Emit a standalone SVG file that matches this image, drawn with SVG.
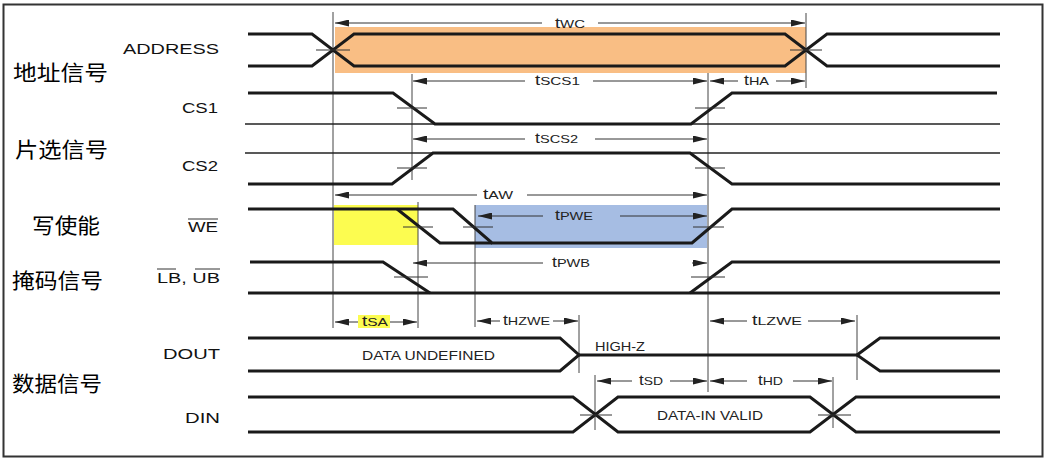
<svg xmlns="http://www.w3.org/2000/svg" width="1048" height="461" viewBox="0 0 1048 461">
<defs>
<marker id="ah" markerUnits="userSpaceOnUse" markerWidth="14" markerHeight="7" refX="14" refY="3.5" orient="auto-start-reverse" viewBox="0 0 14 7">
<path d="M0,0 L14,3.5 L0,7 z" fill="#222"/>
</marker>
</defs>
<style>
.sig{fill:none;stroke:#1a1a1a;stroke-width:3;stroke-linejoin:miter}
.ref{fill:none;stroke:#222;stroke-width:1.6}
.guide{fill:none;stroke:#444;stroke-width:1}
.tick{fill:none;stroke:#333;stroke-width:1}
.dim{fill:none;stroke:#333;stroke-width:1}
.ar{marker-end:url(#ah)}
.al{marker-start:url(#ah)}
.lbl{font-family:"Liberation Sans",Arial,sans-serif;font-size:15px;fill:#111}
.cn{font-family:"Noto Sans CJK SC","Noto Sans",sans-serif;font-size:21px;fill:#000}
.tm{font-family:"Liberation Sans",Arial,sans-serif;font-size:14px;fill:#222}
.sub{font-size:11.5px}
.dat{font-family:"Liberation Sans",Arial,sans-serif;font-size:12.5px;fill:#222}
</style>
<rect x="0" y="0" width="1048" height="461" fill="#fff"/>
<rect x="3.5" y="4.5" width="1039" height="452" fill="none" stroke="#333" stroke-width="2"/>

<g id="highlights">
<rect x="335" y="27" width="471" height="46" fill="#F9BE84"/>
<rect x="334" y="205" width="84" height="40" fill="#FCFC50"/>
<rect x="475" y="205" width="232" height="43" fill="#A6BDE3"/>
<rect x="358" y="315" width="32" height="13" fill="#FCFC50"/>
</g>

<g id="labels">
<text class="cn" x="13" y="80" textLength="95" lengthAdjust="spacingAndGlyphs">地址信号</text>
<text class="cn" x="15" y="157" textLength="93" lengthAdjust="spacingAndGlyphs">片选信号</text>
<text class="cn" x="32" y="233" textLength="68" lengthAdjust="spacingAndGlyphs">写使能</text>
<text class="cn" x="12" y="288" textLength="91" lengthAdjust="spacingAndGlyphs">掩码信号</text>
<text class="cn" x="12" y="391" textLength="90" lengthAdjust="spacingAndGlyphs">数据信号</text>
<text class="lbl" x="123" y="54" textLength="96" lengthAdjust="spacingAndGlyphs">ADDRESS</text>
<text class="lbl" x="182" y="113" textLength="36" lengthAdjust="spacingAndGlyphs">CS1</text>
<text class="lbl" x="182" y="171" textLength="36" lengthAdjust="spacingAndGlyphs">CS2</text>
<text class="lbl" x="188" y="232" textLength="30" lengthAdjust="spacingAndGlyphs">WE</text>
<line class="tick" x1="188" y1="219" x2="218" y2="219"/>
<text class="lbl" x="157" y="283" textLength="63" lengthAdjust="spacingAndGlyphs">LB, UB</text>
<line class="tick" x1="157" y1="269" x2="176" y2="269"/>
<line class="tick" x1="195" y1="269" x2="220" y2="269"/>
<text class="lbl" x="163" y="359" textLength="57" lengthAdjust="spacingAndGlyphs">DOUT</text>
<text class="lbl" x="185" y="423" textLength="35" lengthAdjust="spacingAndGlyphs">DIN</text>
</g>

<g id="guides">
<line class="guide" x1="333" y1="12" x2="333" y2="328"/>
<line class="guide" x1="806" y1="13" x2="806" y2="88"/>
<line class="guide" x1="412" y1="74" x2="412" y2="180"/>
<line class="guide" x1="708" y1="73" x2="708" y2="392"/>
<line class="guide" x1="418" y1="202" x2="418" y2="328"/>
<line class="guide" x1="475" y1="205" x2="475" y2="327"/>
<line class="guide" x1="579" y1="315" x2="579" y2="373"/>
<line class="guide" x1="857" y1="315" x2="857" y2="380"/>
<line class="guide" x1="595" y1="375" x2="595" y2="430"/>
<line class="guide" x1="833" y1="377" x2="833" y2="428"/>
</g>

<g id="address">
<path class="sig" d="M248,34 H312 L354,66 H785 L827,34 H1000"/>
<path class="sig" d="M248,66 H312 L354,34 H785 L827,66 H1000"/>
<line class="tick" x1="316" y1="50" x2="350" y2="50"/>
<line class="tick" x1="790" y1="50" x2="822" y2="50"/>
</g>

<g id="cs1">
<path class="ref" d="M245,124 H1000"/>
<path class="sig" d="M248,93 H393 L435,124 H691 L732,93 H997"/>
<line class="tick" x1="397" y1="108" x2="427" y2="108"/>
<line class="tick" x1="695" y1="108" x2="725" y2="108"/>
</g>

<g id="cs2">
<path class="ref" d="M245,153 H1000"/>
<path class="sig" d="M248,184 H392 L433,153 H690 L732,184 H1000"/>
<line class="tick" x1="397" y1="168" x2="427" y2="168"/>
<line class="tick" x1="695" y1="168" x2="725" y2="168"/>
</g>

<g id="we">
<path class="sig" d="M248,209 H453 L492,243 H692 L732,209 H1000"/>
<path class="sig" d="M397,209 L440,243 H492"/>
<line class="tick" x1="403" y1="227" x2="433" y2="227"/>
<line class="tick" x1="463" y1="227" x2="493" y2="227"/>
<line class="tick" x1="693" y1="227" x2="724" y2="227"/>
</g>

<g id="lbub">
<path class="sig" d="M248,293 H1000"/>
<path class="sig" d="M250,262 H383 L430,293 M690,293 L732,262 H1000"/>
<line class="tick" x1="394" y1="277" x2="428" y2="277" stroke="#888"/>
<line class="tick" x1="691" y1="277" x2="725" y2="277"/>
</g>

<g id="dout">
<path class="sig" d="M248,338 H560 L579,355 L560,371 H248"/>
<path class="sig" d="M579,355 H857"/>
<path class="sig" d="M1000,338 H880 L857,355 L880,371 H1000"/>
<text class="dat" x="362" y="359.5" textLength="133" lengthAdjust="spacingAndGlyphs">DATA UNDEFINED</text>
<text class="dat" x="595" y="351" textLength="50" lengthAdjust="spacingAndGlyphs">HIGH-Z</text>
</g>

<g id="din">
<path class="sig" d="M248,397 H573 L618,432 H810 L856,397 H1000"/>
<path class="sig" d="M248,432 H573 L618,397 H810 L856,432 H1000"/>
<line class="tick" x1="580" y1="415" x2="612" y2="415"/>
<line class="tick" x1="818" y1="415" x2="851" y2="415"/>
<text class="dat" x="657" y="420" textLength="106" lengthAdjust="spacingAndGlyphs">DATA-IN VALID</text>
</g>

<g id="connectors">
<line class="dim al" x1="335" y1="23" x2="542" y2="23"/>
<line class="dim ar" x1="598" y1="23" x2="805" y2="23"/>
<line class="dim al" x1="413" y1="81" x2="525" y2="81"/>
<line class="dim ar" x1="593" y1="81" x2="707" y2="81"/>
<line class="dim al" x1="710" y1="81" x2="738" y2="81"/>
<line class="dim ar" x1="776" y1="81" x2="805" y2="81"/>
<line class="dim al" x1="413" y1="139" x2="525" y2="139"/>
<line class="dim ar" x1="595" y1="139" x2="707" y2="139"/>
<line class="dim al" x1="335" y1="195" x2="477" y2="195"/>
<line class="dim ar" x1="527" y1="195" x2="707" y2="195"/>
<line class="dim al" x1="478" y1="216" x2="543" y2="216"/>
<line class="dim ar" x1="620" y1="216" x2="707" y2="216"/>
<line class="dim al" x1="413" y1="263" x2="543" y2="263"/>
<line class="dim ar" x1="692" y1="263" x2="707" y2="263"/>
<line class="dim al" x1="335" y1="322" x2="358" y2="322"/>
<line class="dim ar" x1="390" y1="322" x2="417" y2="322"/>
<line class="dim al" x1="477" y1="321" x2="500" y2="321"/>
<line class="dim ar" x1="553" y1="321" x2="578" y2="321"/>
<line class="dim al" x1="710" y1="321" x2="747" y2="321"/>
<line class="dim ar" x1="808" y1="321" x2="855" y2="321"/>
<line class="dim al" x1="597" y1="381" x2="632" y2="381"/>
<line class="dim ar" x1="670" y1="381" x2="707" y2="381"/>
<line class="dim al" x1="710" y1="381" x2="747" y2="381"/>
<line class="dim ar" x1="793" y1="381" x2="832" y2="381"/>
</g>

<g id="timing-labels">
<text class="tm" x="555" y="27.5" textLength="30" lengthAdjust="spacingAndGlyphs">t<tspan class="sub">WC</tspan></text>
<text class="tm" x="535" y="85" textLength="45" lengthAdjust="spacingAndGlyphs">t<tspan class="sub">SCS1</tspan></text>
<text class="tm" x="744" y="85" textLength="25" lengthAdjust="spacingAndGlyphs">t<tspan class="sub">HA</tspan></text>
<text class="tm" x="535" y="143" textLength="43" lengthAdjust="spacingAndGlyphs">t<tspan class="sub">SCS2</tspan></text>
<text class="tm" x="483" y="199" textLength="30" lengthAdjust="spacingAndGlyphs">t<tspan class="sub">AW</tspan></text>
<text class="tm" x="555" y="220" textLength="38" lengthAdjust="spacingAndGlyphs">t<tspan class="sub">PWE</tspan></text>
<text class="tm" x="552" y="267" textLength="38" lengthAdjust="spacingAndGlyphs">t<tspan class="sub">PWB</tspan></text>
<text class="tm" x="362" y="326" textLength="26" lengthAdjust="spacingAndGlyphs">t<tspan class="sub">SA</tspan></text>
<text class="tm" x="503" y="325" textLength="47" lengthAdjust="spacingAndGlyphs">t<tspan class="sub">HZWE</tspan></text>
<text class="tm" x="752" y="325" textLength="50" lengthAdjust="spacingAndGlyphs">t<tspan class="sub">LZWE</tspan></text>
<text class="tm" x="639" y="385" textLength="24" lengthAdjust="spacingAndGlyphs">t<tspan class="sub">SD</tspan></text>
<text class="tm" x="758" y="385" textLength="25" lengthAdjust="spacingAndGlyphs">t<tspan class="sub">HD</tspan></text>
</g>
</svg>
